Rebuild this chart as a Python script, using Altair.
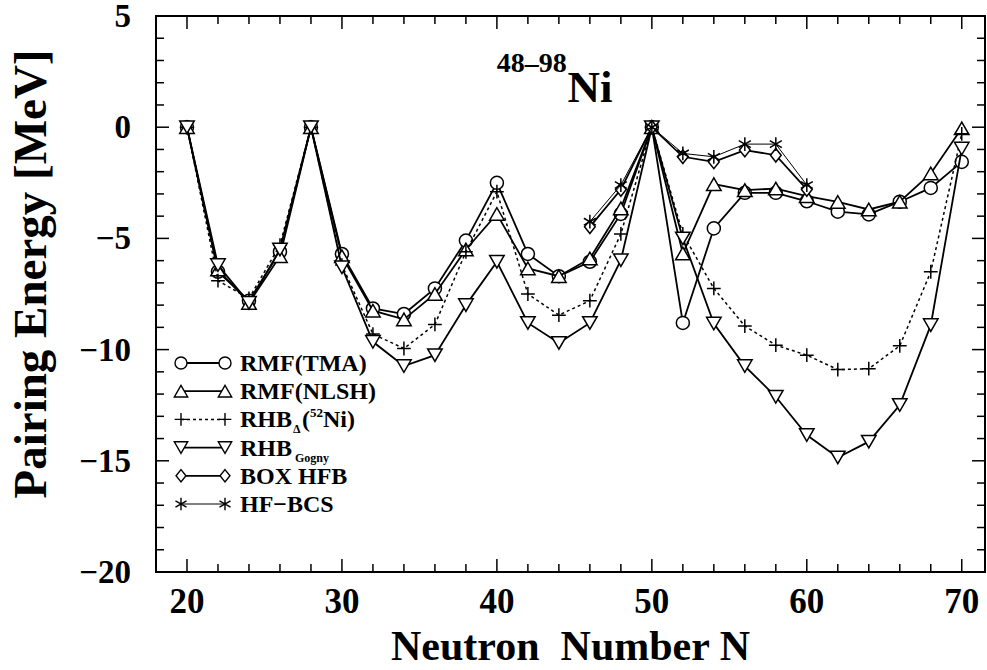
import altair as alt
import pandas as pd

# ---------------------------------------------------------------- data
N = list(range(20, 72, 2))

rmf_tma = [0.0, -6.5, -7.8, -5.6, 0.0, -5.7, -8.15, -8.4, -7.25, -5.1, -2.5, -5.7, -6.7,
           -6.05, -3.9, 0.0, -8.8, -4.55, -2.95, -2.95, -3.33, -3.8, -3.92, -3.35, -2.73, -1.56]
rmf_nlsh = [0.0, -6.4, -7.9, -5.8, 0.0, -5.8, -8.25, -8.64, -7.5, -5.5, -3.9, -6.35, -6.7,
            -5.9, -3.65, 0.0, -5.68, -2.56, -2.83, -2.76, -3.1, -3.36, -3.7, -3.35, -2.08, -0.05]
rhb_delta = [0.0, -6.9, -7.7, -5.3, 0.0, -6.2, -9.3, -9.95, -8.87, -5.6, -2.9, -7.5, -8.45,
             -7.8, -4.8, 0.0, -4.8, -7.25, -8.94, -9.8, -10.25, -10.9, -10.86, -9.83, -6.5, -0.3]
rhb_gogny = [0.0, -6.2, -7.9, -5.5, 0.0, -6.3, -9.65, -10.74, -10.25, -8.0, -6.05, -8.8, -9.7,
             -8.8, -5.98, 0.0, -5.0, -8.83, -10.74, -12.12, -13.84, -14.85, -14.14, -12.49, -8.9, -0.96]

N_box = list(range(46, 62, 2))
box_hfb = [-4.48, -2.8, 0.0, -1.33, -1.56, -1.03, -1.26, -2.8]
hf_bcs = [-4.25, -2.6, 0.0, -1.18, -1.33, -0.76, -0.76, -2.6]

x_major = [20, 30, 40, 50, 60, 70]
x_minor = [n for n in range(20, 72, 2) if n % 10 != 0]
y_major = [-20, -15, -10, -5, 0, 5]
y_minor = [v for v in range(-19, 5) if v % 5 != 0]

X_TITLE = "Neutron\u00a0\u00a0Number N"
Y_TITLE = "Pairing Energy [MeV]"

# ---------------------------------------------------------------- layout
W, H = 829, 556
FONT = "Liberation Serif"
x_scale = alt.Scale(domain=[18, 71.5], nice=False, zero=False)
y_scale = alt.Scale(domain=[-20, 5], nice=False, zero=False)

PLUS = "M-1,0L1,0M0,-1L0,1"
STAR = "M0,-1L0,1M-0.87,-0.5L0.87,0.5M-0.87,0.5L0.87,-0.5"
DIAMOND = "M0,-1L0.8,0L0,1L-0.8,0Z"

# name, x values, y values, shape, size, dash, line width
series = [
    ("RMF(TMA)", N, rmf_tma, "circle", 170, None, 1.8),
    ("RMF(NLSH)", N, rmf_nlsh, "triangle-up", 210, None, 1.8),
    ("RHB_delta", N, rhb_delta, PLUS, 190, [3, 3], 1.5),
    ("RHB_Gogny", N, rhb_gogny, "triangle-down", 210, None, 1.8),
    ("BOX HFB", N_box, box_hfb, DIAMOND, 180, None, 1.8),
    ("HF-BCS", N_box, hf_bcs, STAR, 190, None, 1.0),
]

X = lambda f: alt.X(f, scale=x_scale, axis=None)
Y = lambda f: alt.Y(f, scale=y_scale, axis=None)

layers = []
for name, xs, ys, shape, size, dash, lw in series:
    df = pd.DataFrame({"N": xs, "E": ys})
    line_kw = dict(color="black", strokeWidth=lw)
    if dash:
        line_kw["strokeDash"] = dash
    layers.append(alt.Chart(df).mark_line(**line_kw).encode(x=X("N:Q"), y=Y("E:Q")))
    layers.append(alt.Chart(df).mark_point(shape=shape, size=size, fill="white", stroke="black",
                                           strokeWidth=1.5, opacity=1, fillOpacity=1)
                  .encode(x=X("N:Q"), y=Y("E:Q")))

# inward ticks on all four sides of the frame
def xticks(vals, length):
    d = pd.DataFrame({"N": vals})
    bot = alt.Chart(d).mark_rule(color="black", strokeWidth=1.5).encode(
        x=X("N:Q"), y=alt.value(H), y2=alt.value(H - length))
    top = alt.Chart(d).mark_rule(color="black", strokeWidth=1.5).encode(
        x=X("N:Q"), y=alt.value(0), y2=alt.value(length))
    return [bot, top]

def yticks(vals, length):
    d = pd.DataFrame({"E": vals})
    left = alt.Chart(d).mark_rule(color="black", strokeWidth=1.5).encode(
        y=Y("E:Q"), x=alt.value(0), x2=alt.value(length))
    right = alt.Chart(d).mark_rule(color="black", strokeWidth=1.5).encode(
        y=Y("E:Q"), x=alt.value(W), x2=alt.value(W - length))
    return [left, right]

layers += xticks(x_major, 13) + xticks(x_minor, 8)
layers += yticks(y_major, 13) + yticks(y_minor, 8)

# tick labels and axis titles
layers.append(alt.Chart(pd.DataFrame({"N": x_major})).mark_text(
    align="center", baseline="alphabetic", font=FONT, fontWeight="bold", fontSize=35,
    color="black").encode(x=X("N:Q"), y=alt.value(H + 41), text=alt.Text("N:Q", format="d")))
layers.append(alt.Chart(pd.DataFrame({"E": y_major})).mark_text(
    align="right", baseline="alphabetic", dy=11, font=FONT, fontWeight="bold", fontSize=33,
    color="black").encode(y=Y("E:Q"), x=alt.value(-25), text=alt.Text("E:Q", format="d")))

one = pd.DataFrame({"k": [0]})
layers.append(alt.Chart(one).mark_text(
    align="center", baseline="alphabetic", font=FONT, fontWeight="bold", fontSize=42,
    color="black").encode(x=alt.value(W / 2), y=alt.value(H + 88), text=alt.value(X_TITLE)))
layers.append(alt.Chart(one).mark_text(
    align="center", baseline="alphabetic", angle=270, font=FONT, fontWeight="bold",
    fontSize=47, color="black").encode(x=alt.value(-110), y=alt.value(258),
                                       text=alt.value(Y_TITLE)))

# nucleus label
layers.append(alt.Chart(one).mark_text(align="right", baseline="alphabetic", font=FONT,
                                       fontWeight="bold", fontSize=28, color="black").encode(
    x=alt.XDatum(44.5, scale=x_scale, axis=None), y=alt.YDatum(2.5, scale=y_scale, axis=None),
    text=alt.value("48–98")))
layers.append(alt.Chart(one).mark_text(align="left", baseline="alphabetic", font=FONT,
                                       fontWeight="bold", fontSize=45, color="black").encode(
    x=alt.XDatum(44.55, scale=x_scale, axis=None), y=alt.YDatum(1.13, scale=y_scale, axis=None),
    text=alt.value("Ni")))

# legend (pixel layout inside the plot area)
LX1, LX2, LTX = 25, 69, 84
LY0, LDY = 347, 28.2
TXT = 24
legend_text = [
    [("RMF(TMA)", 0, 0, TXT)],
    [("RMF(NLSH)", 0, 0, TXT)],
    [("RHB", 0, 0, TXT), ("Δ", 53, 6, 12), ("(", 62, 0, TXT), ("52", 70, -10, 13), ("Ni)", 83, 0, TXT)],
    [("RHB", 0, 0, TXT), ("Gogny", 55, 6, 12)],
    [("BOX HFB", 0, 0, TXT)],
    [("HF\u2212BCS", 0, 0, TXT)],
]
for i, (name, xs, ys, shape, size, dash, lw) in enumerate(series):
    yy = LY0 + LDY * i
    rule_kw = dict(color="black", strokeWidth=lw)
    if dash:
        rule_kw["strokeDash"] = dash
    layers.append(alt.Chart(one).mark_rule(**rule_kw).encode(
        x=alt.value(LX1), x2=alt.value(LX2), y=alt.value(yy)))
    for lx in (LX1, LX2):
        layers.append(alt.Chart(one).mark_point(shape=shape, size=size * 0.85, fill="white",
                                                stroke="black", strokeWidth=1.4, opacity=1,
                                                fillOpacity=1).encode(
            x=alt.value(lx), y=alt.value(yy)))
    for txt, dx, dy, fs in legend_text[i]:
        layers.append(alt.Chart(one).mark_text(align="left", baseline="alphabetic", font=FONT,
                                               fontWeight="bold", fontSize=fs, color="black").encode(
            x=alt.value(LTX + dx), y=alt.value(yy + 8 + dy), text=alt.value(txt)))

chart = alt.layer(*layers).properties(
    width=W, height=H,
    padding={"left": 156, "top": 16, "right": 2, "bottom": 98},
    autosize=alt.AutoSizeParams(type="none"),
    background="white",
).configure_view(stroke="black", strokeWidth=2)

chart.save("out.html", embed_options={"renderer": "svg", "actions": False})
